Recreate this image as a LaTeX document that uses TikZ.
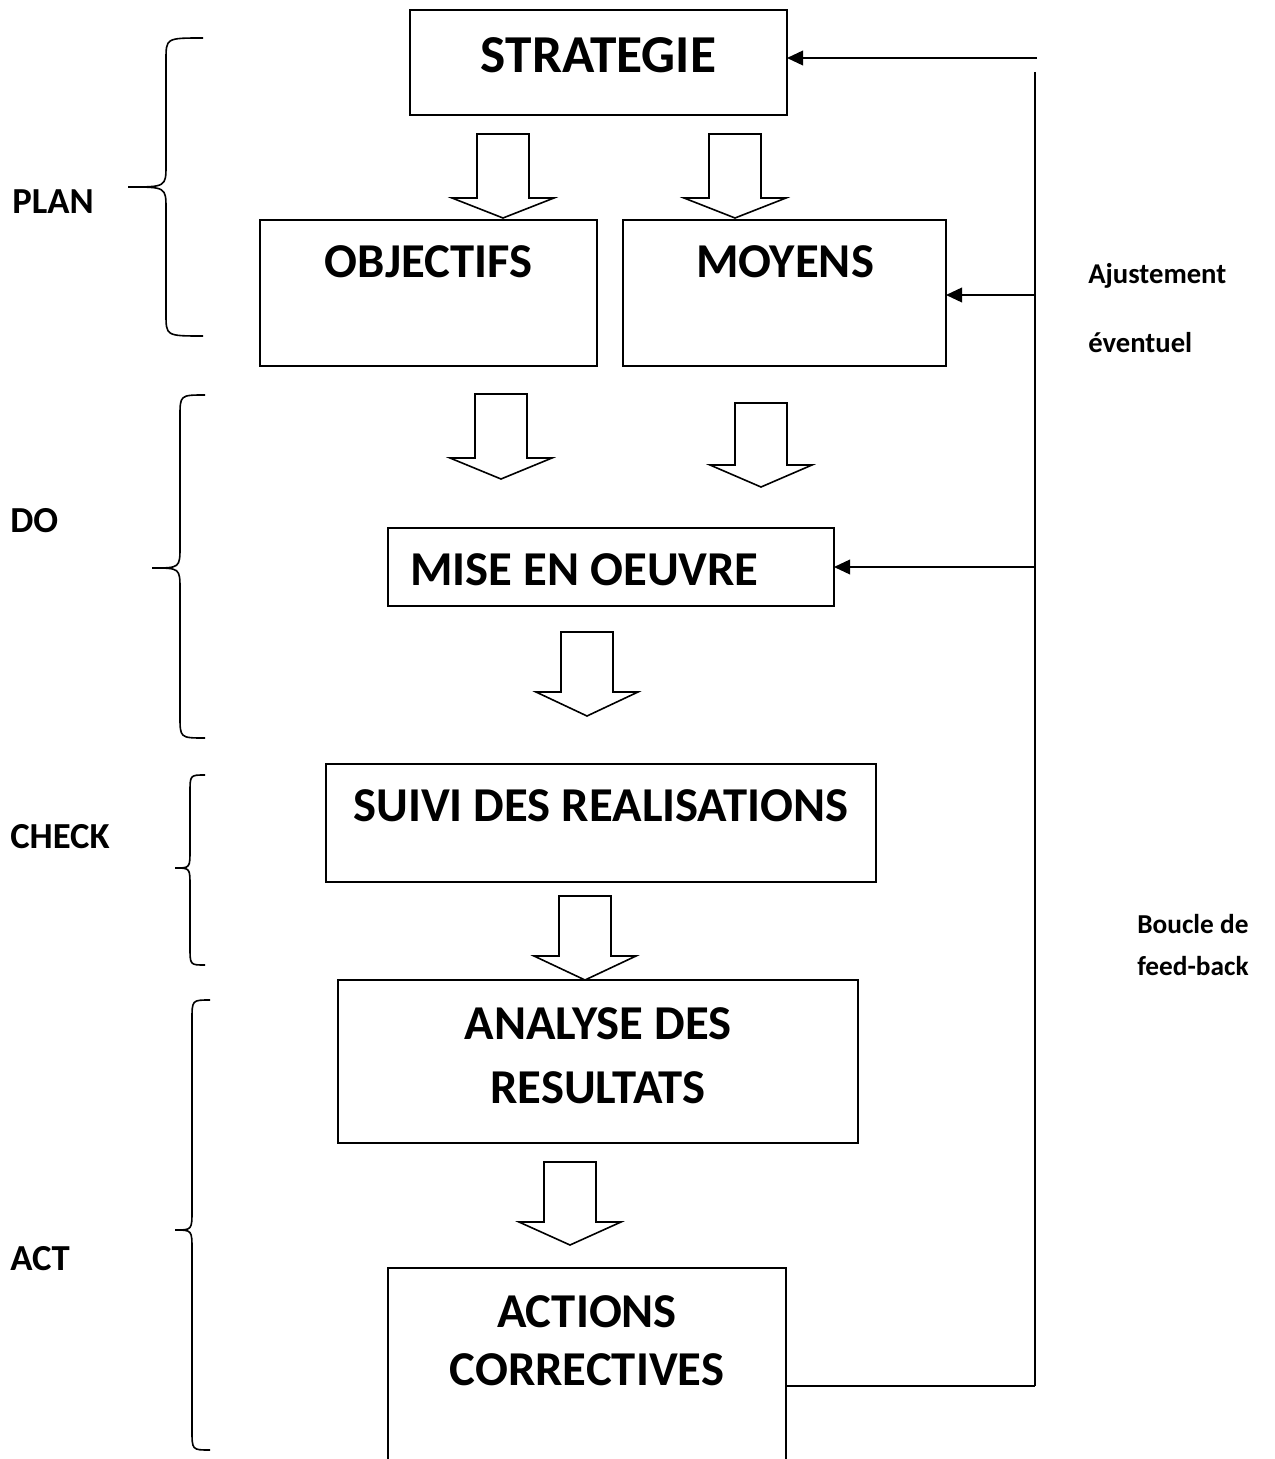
\documentclass[tikz,border=0pt]{standalone}
\usepackage{fontspec}
\setmainfont{Carlito}
\usetikzlibrary{arrows.meta}

\newlength\pxu
\setlength\pxu{0.75pt}

% curly brace opening to the right: end x, spine x, tip x, top y, tip y, bottom y, bend
\newcommand\curlybrace[7]{%
  \draw[brace] (#1,#4) .. controls (#2,#4) .. (#2,#4+#7)
    -- (#2,#5-#7) .. controls (#2,#5) .. (#3,#5)
    .. controls (#2,#5) .. (#2,#5+#7)
    -- (#2,#6-#7) .. controls (#2,#6) .. (#1,#6);}

% hollow block arrow pointing down: centre x, top y, head y, tip y
\newcommand\blockdown[4]{%
  \draw[blockarrow] (#1-26,#2) -- (#1+26,#2) -- (#1+26,#3) -- (#1+51,#3)
    -- (#1,#4) -- (#1-51,#3) -- (#1-26,#3) -- cycle;}

\begin{document}
\begin{tikzpicture}[x=0.75pt,y=-0.75pt,
  box/.style={draw, line width=1.2pt, inner sep=0pt, outer sep=0pt, fill=white},
  big/.style={font=\bfseries\fontsize{36.5}{44}\selectfont, inner sep=0pt},
  title/.style={font=\bfseries\fontsize{40}{48}\selectfont, inner sep=0pt},
  side/.style={font=\bfseries\fontsize{27.5}{33}\selectfont, inner sep=0pt, anchor=base west},
  note/.style={font=\bfseries\fontsize{21.5}{26}\selectfont, inner sep=0pt, anchor=base west},
  smallnote/.style={note, font=\bfseries\fontsize{20.5}{25}\selectfont},
  brace/.style={line width=1.2pt},
  blockarrow/.style={line width=1.2pt, line join=miter, fill=white},
  feed/.style={line width=1.2pt},
  feedarrow/.style={line width=1.2pt, -{Triangle[length=12pt,width=11pt]}}]

\clip (0,0) rectangle (1274,1459);
\fill[white] (0,0) rectangle (1274,1459);

% boxes
\node[box, minimum width=377*\pxu, minimum height=105*\pxu] (strat) at (598.5,62.5) {};
\node[box, minimum width=337*\pxu, minimum height=146*\pxu] (obj) at (428.5,293) {};
\node[box, minimum width=323*\pxu, minimum height=146*\pxu] (moy) at (784.5,293) {};
\node[box, minimum width=446*\pxu, minimum height=78*\pxu] (mise) at (611,567) {};
\node[box, minimum width=550*\pxu, minimum height=118*\pxu] (suivi) at (601,823) {};
\node[box, minimum width=520*\pxu, minimum height=163*\pxu] (analyse) at (598,1061.5) {};
\node[box, minimum width=398*\pxu, minimum height=230*\pxu] (actions) at (587,1383) {};

% box texts
\node[title, anchor=base] (tstrat) at (598.5,73) {STRATEGIE};
\node[big, anchor=base] (tobj) at (428.5,277) {OBJECTIFS};
\node[big, anchor=base] (tmoy) at (785,277) {MOYENS};
\node[big, anchor=base west] (tmise) at (410,585) {MISE EN OEUVRE};
\node[big, anchor=base] (tsuivi) at (601,821) {SUIVI DES REALISATIONS};
\node[big, anchor=base] (tana1) at (598,1039) {ANALYSE DES};
\node[big, anchor=base] (tana2) at (598,1103) {RESULTATS};
\node[big, anchor=base] (tact1) at (587,1327) {ACTIONS};
\node[big, anchor=base] (tact2) at (587,1385) {CORRECTIVES};

% block arrows between the stages
\blockdown{503}{134}{198}{218}
\blockdown{735}{134}{198}{218}
\blockdown{501}{394}{458}{479}
\blockdown{761}{403}{465}{487}
\blockdown{587}{632}{692}{716}
\blockdown{585}{896}{956}{980}
\blockdown{570}{1162}{1222}{1245}

% feedback loop
\coordinate (ftop) at (1037,58);
\coordinate (vtop) at (1035,72);
\coordinate (vbot) at (1035,1386);
\coordinate (fmoy) at (1035,295);
\coordinate (fmise) at (1035,567);
\draw[feed] (vtop) -- (vbot);
\draw[feed] (actions.east |- vbot) -- (vbot);
\draw[feedarrow] (ftop) -- (strat.east |- ftop);
\draw[feedarrow] (fmoy) -- (moy.east |- fmoy);
\draw[feedarrow] (fmise) -- (mise.east |- fmise);

% phase braces
\curlybrace{203}{166}{128}{38}{187}{336}{22}
\curlybrace{205}{180}{152}{395}{568}{738}{22}
\curlybrace{205}{190}{175}{775}{868}{965}{18}
\curlybrace{210}{192}{175}{1000}{1230}{1450}{20}

% phase labels
\node[side] (plan) at (12,213) {PLAN};
\node[side] (do) at (10,532) {DO};
\node[side] (check) at (10,848) {CHECK};
\node[side] (act) at (10,1270) {ACT};

% loop labels
\node[note] (aj1) at (1088,283) {Ajustement};
\node[note] (aj2) at (1088,352) {éventuel};
\node[smallnote] (bo1) at (1137,933) {Boucle de};
\node[smallnote] (bo2) at (1137,975) {feed-back};
\end{tikzpicture}
\end{document}
